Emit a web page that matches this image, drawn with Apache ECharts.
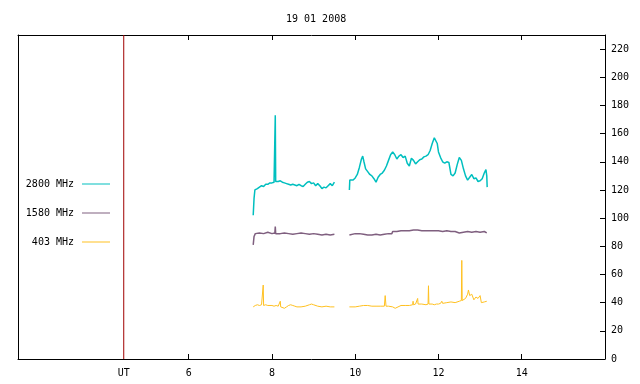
<!DOCTYPE html>
<html>
<head>
<meta charset="utf-8">
<script src="https://cdn.jsdelivr.net/npm/echarts@6/dist/echarts.min.js"></script>
<style>
  html, body { margin: 0; padding: 0; background: #fff; }
  #main { width: 640px; height: 384px; }
</style>
</head>
<body>
<div id="main"></div>
<script>
// hours UT, flux values
var xTicks = [6, 8, 10, 12, 14];
var yTicks = [0, 20, 40, 60, 80, 100, 120, 140, 160, 180, 200, 220];
var utHour = 4.44;

var f2800a = [
  [7.55, 102], [7.57, 114], [7.59, 120], [7.65, 121], [7.70, 122], [7.75, 123], [7.80, 122.5],
  [7.85, 124], [7.90, 124], [7.95, 125], [8.00, 125], [8.05, 125.5], [8.07, 125.5], [8.08, 173],
  [8.09, 126], [8.15, 126], [8.20, 126.5], [8.25, 125.5], [8.30, 125], [8.35, 124.5], [8.40, 124],
  [8.45, 123.5], [8.50, 124], [8.55, 123.5], [8.60, 123], [8.65, 124], [8.70, 123], [8.75, 122.5],
  [8.80, 124], [8.85, 125.5], [8.90, 126], [8.95, 124.5], [9.00, 125], [9.05, 123], [9.10, 124.5],
  [9.15, 123], [9.20, 121], [9.25, 122], [9.30, 121.5], [9.35, 123], [9.40, 124.5], [9.45, 123],
  [9.50, 125.5]
];
var f2800b = [
  [9.86, 120], [9.87, 127], [9.90, 126.5], [9.95, 127], [10.00, 128.5], [10.05, 131], [10.10, 136],
  [10.15, 142], [10.18, 144], [10.21, 140], [10.25, 135], [10.30, 133], [10.35, 131], [10.40, 130],
  [10.45, 128], [10.50, 125.5], [10.55, 129], [10.60, 131], [10.65, 132], [10.70, 134], [10.75, 137],
  [10.80, 141], [10.85, 145], [10.90, 147], [10.95, 145], [11.00, 142], [11.05, 144], [11.10, 145],
  [11.15, 143], [11.20, 144], [11.25, 139], [11.30, 137], [11.35, 142.5], [11.40, 141], [11.45, 138.5],
  [11.50, 140], [11.55, 141.5], [11.60, 142], [11.65, 143.5], [11.70, 144], [11.75, 145], [11.80, 148],
  [11.85, 153], [11.90, 157], [11.93, 158], [11.97, 153], [12.00, 147], [12.05, 143], [12.10, 140],
  [12.15, 139], [12.20, 140], [12.25, 139.5], [12.30, 131], [12.35, 130], [12.40, 132], [12.45, 138],
  [12.50, 143], [12.55, 141], [12.60, 135], [12.65, 130], [12.70, 127], [12.75, 129], [12.80, 131],
  [12.85, 128], [12.90, 128.5], [12.95, 126], [13.00, 126.5], [13.05, 128], [13.10, 132],
  [13.14, 134.5], [13.16, 130], [13.17, 122]
];

var f1580a = [
  [7.55, 81], [7.57, 87], [7.60, 89], [7.70, 89.5], [7.80, 89], [7.90, 90], [8.00, 89], [8.07, 89.5],
  [8.08, 94], [8.09, 89], [8.20, 89], [8.30, 89.5], [8.40, 89], [8.50, 88.5], [8.60, 89], [8.70, 89.5],
  [8.80, 89], [8.90, 88.5], [9.00, 89], [9.10, 88.5], [9.20, 88], [9.30, 88.5], [9.40, 88], [9.50, 88.5]
];
var f1580b = [
  [9.86, 88], [9.90, 88.5], [10.00, 89], [10.10, 89], [10.20, 88.5], [10.30, 88], [10.40, 88],
  [10.50, 88.5], [10.60, 88], [10.70, 88.5], [10.80, 89], [10.88, 89], [10.90, 90.5], [11.00, 90.5],
  [11.10, 91], [11.20, 91], [11.30, 91], [11.40, 91.5], [11.50, 91.5], [11.60, 91], [11.70, 91],
  [11.80, 91], [11.90, 91], [12.00, 91], [12.10, 90.5], [12.20, 91], [12.30, 90.5], [12.40, 90.5],
  [12.50, 89.5], [12.60, 90], [12.70, 90.5], [12.80, 90], [12.90, 90.5], [13.00, 90], [13.10, 90.5],
  [13.16, 89.5]
];

var f403a = [
  [7.55, 37], [7.60, 38], [7.65, 38.5], [7.70, 38], [7.75, 38.5], [7.78, 38], [7.79, 52.5], [7.80, 38],
  [7.85, 38.5], [7.90, 38], [8.00, 38], [8.05, 37.5], [8.10, 38], [8.15, 37.5], [8.19, 37], [8.20, 41],
  [8.21, 37], [8.25, 36], [8.30, 36], [8.35, 37], [8.40, 38], [8.45, 38.5], [8.50, 38], [8.55, 37.5],
  [8.60, 37], [8.70, 37], [8.80, 37.5], [8.90, 38.5], [8.95, 39], [9.00, 38.5], [9.10, 37.5], [9.20, 37],
  [9.30, 37.5], [9.40, 37], [9.50, 37]
];
var f403b = [
  [9.86, 37], [9.90, 37.5], [10.00, 37], [10.10, 37.5], [10.20, 38], [10.30, 38], [10.40, 37.5],
  [10.50, 37.5], [10.60, 37.5], [10.70, 37.5], [10.72, 45], [10.74, 37.5], [10.80, 37.5], [10.90, 37],
  [10.96, 36], [11.00, 37], [11.10, 38], [11.20, 38], [11.30, 38], [11.38, 38.5], [11.39, 41],
  [11.40, 38.5], [11.45, 39], [11.49, 39], [11.50, 43], [11.51, 39], [11.60, 39], [11.70, 38.5],
  [11.75, 39], [11.76, 52], [11.77, 39], [11.80, 40], [11.85, 39], [11.90, 38.5], [11.95, 39],
  [12.00, 39], [12.05, 39.5], [12.08, 41], [12.10, 39.5], [12.20, 40], [12.30, 40.5], [12.40, 40],
  [12.50, 41], [12.55, 41.5], [12.56, 70], [12.57, 41.5], [12.60, 42], [12.65, 43], [12.70, 46],
  [12.72, 49], [12.75, 45], [12.80, 46], [12.85, 42], [12.90, 44], [12.95, 43], [13.00, 45],
  [13.03, 40], [13.10, 40.5], [13.16, 41]
];

var FONT = 'DejaVu Sans Mono';
var C2800 = '#00bfbf', C1580 = '#7f5f7f', C403 = '#ffc020', CUT = '#a00000';
var Y_MAX = 230;

function joined(a, b) {
  return a.concat([[9.7, '-']], b);
}

function keyLegend(name, y) {
  return {
    data: [name],
    right: 530,
    top: y - 5,
    align: 'right',
    icon: 'rect',
    itemWidth: 28,
    itemHeight: 1,
    padding: 0,
    selectedMode: false,
    textStyle: { fontFamily: FONT, fontSize: 10, color: '#000', padding: [0, 3, 0, 0] }
  };
}

var chart = echarts.init(document.getElementById('main'));
chart.setOption({
  animation: false,
  title: {
    text: '19 01 2008',
    left: 281,
    top: 9,
    textStyle: { fontFamily: FONT, fontSize: 10, fontWeight: 'normal', color: '#000' }
  },
  legend: [
    keyLegend('2800 MHz', 184),
    keyLegend('1580 MHz', 213),
    keyLegend('403 MHz', 242)
  ],
  grid: { left: 18, right: 35, top: 35, bottom: 25, outerBoundsMode: 'none' },
  xAxis: [
    {
      type: 'value', min: 1.9, max: 16, position: 'bottom',
      splitLine: { show: false },
      axisLine: { onZero: false, lineStyle: { color: '#000', width: 1 } },
      axisTick: { inside: true, length: 5, customValues: xTicks, lineStyle: { color: '#000' } },
      axisLabel: {
        customValues: [utHour].concat(xTicks), margin: 9,
        fontFamily: FONT, fontSize: 10, color: '#000',
        formatter: function (v) { return v === utHour ? 'UT' : String(v); }
      }
    },
    {
      type: 'value', min: 1.9, max: 16, position: 'top',
      splitLine: { show: false },
      axisLine: { onZero: false, lineStyle: { color: '#000', width: 1 } },
      axisTick: { inside: true, length: 5, customValues: xTicks, lineStyle: { color: '#000' } },
      axisLabel: { show: false }
    }
  ],
  yAxis: [
    {
      type: 'value', min: 0, max: Y_MAX, position: 'right',
      splitLine: { show: false },
      axisLine: { show: true, onZero: false, lineStyle: { color: '#000', width: 1 } },
      axisTick: { show: true, inside: true, length: 5, customValues: yTicks, lineStyle: { color: '#000' } },
      axisLabel: { customValues: yTicks, margin: 6, fontFamily: FONT, fontSize: 10, color: '#000' }
    },
    {
      type: 'value', min: 0, max: Y_MAX, position: 'left',
      splitLine: { show: false },
      axisLine: { show: true, onZero: false, lineStyle: { color: '#000', width: 1 } },
      axisTick: { show: false },
      axisLabel: { show: false }
    }
  ],
  series: [
    {
      name: 'UT', type: 'line', symbol: 'none', silent: true,
      data: [[utHour, 0], [utHour, Y_MAX]],
      lineStyle: { color: CUT, width: 1 }, itemStyle: { color: CUT }
    },
    {
      name: '2800 MHz', type: 'line', symbol: 'none', data: joined(f2800a, f2800b),
      lineStyle: { color: C2800, width: 1.5 }, itemStyle: { color: C2800 }
    },
    {
      name: '1580 MHz', type: 'line', symbol: 'none', data: joined(f1580a, f1580b),
      lineStyle: { color: C1580, width: 1.5 }, itemStyle: { color: C1580 }
    },
    {
      name: '403 MHz', type: 'line', symbol: 'none', data: joined(f403a, f403b),
      lineStyle: { color: C403, width: 1 }, itemStyle: { color: C403 }
    }
  ]
});
</script>
</body>
</html>
